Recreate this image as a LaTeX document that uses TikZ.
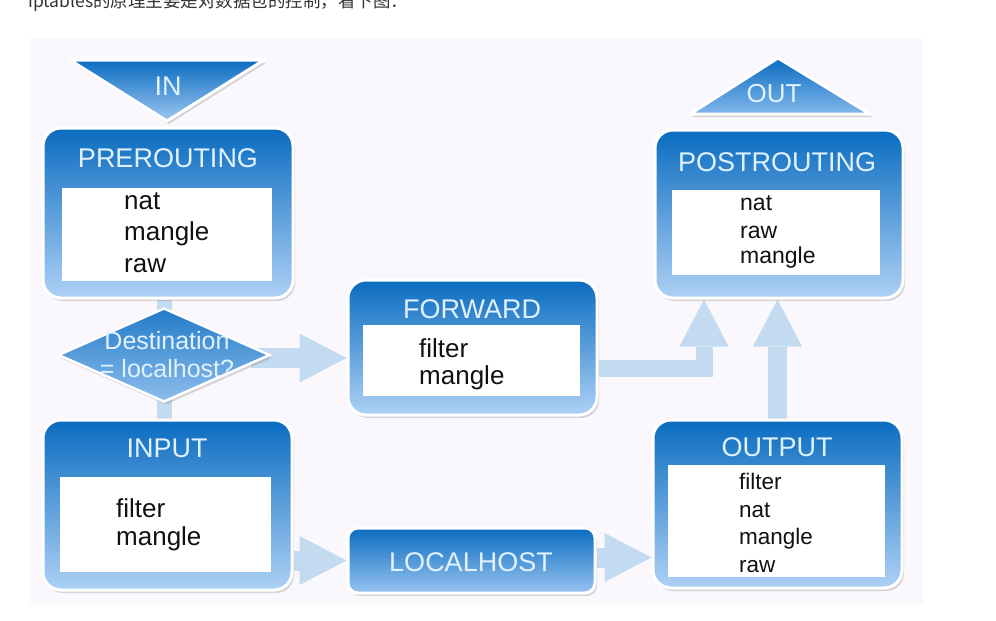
\documentclass[tikz,border=0pt]{standalone}
\usepackage{fontspec}
\setmainfont{Liberation Sans}
\newfontfamily\cjk{Noto Sans CJK SC}
\usetikzlibrary{shapes.geometric,arrows.meta,shadows}
\definecolor{boxtop}{HTML}{0A6CC0}
\definecolor{boxmid}{HTML}{3F90DC}
\definecolor{boxbot}{HTML}{AED1F5}
\definecolor{titlec}{HTML}{E2F1FF}
\definecolor{arrowc}{HTML}{C3DBF1}
\definecolor{panelc}{HTML}{FAF8FC}
\definecolor{itemc}{HTML}{111111}
\pgfdeclarelayer{panel}
\pgfdeclarelayer{background}
\pgfsetlayers{panel,background,main}
\begin{document}
\begin{tikzpicture}[x=1pt,y=-1pt,
  softshadow/.style={drop shadow={shadow xshift=2pt,shadow yshift=-3pt,opacity=0.3,fill=black!50}},
  chainbox/.style={rounded corners=18pt,draw=white,line width=3pt,top color=boxtop,middle color=boxmid,bottom color=boxbot,inner sep=0pt,softshadow},
  tablebox/.style={fill=white,draw=none,inner sep=0pt},
  titletext/.style={text=titlec,font=\fontsize{27}{30}\selectfont,anchor=base,inner sep=0pt},
  itemtext/.style={text=itemc,anchor=base west,inner sep=0pt},
  blockline/.style={draw=arrowc,line width=#1,line join=miter},
  blocktip/.style={-{Triangle[length=47pt,width=49pt,line width=0pt]}}
]
\useasboundingbox (0,0) rectangle (996,621);
\begin{pgfonlayer}{panel}
  \fill[white] (0,0) rectangle (996,621);
  \fill[panelc] (30,38) rectangle (923,604);
\end{pgfonlayer}

% caption (cut off at the top, as in the reference)
\node[anchor=base west,inner sep=0pt,text=black!80,font=\cjk\fontsize{17.5}{20}\selectfont] (caption) at (28,7) {iptables的原理主要是对数据包的控制，看下图：};

% IN and OUT triangles
\path[draw=white,line width=3pt,line join=round,top color=boxtop,bottom color=boxbot!85!boxmid,softshadow]
  (70,60) -- (264,60) -- (167,121) -- cycle;
\node[titletext] (intext) at (168,95) {IN};
\path[draw=white,line width=3pt,line join=round,top color=boxtop,bottom color=boxbot!60!boxmid,softshadow]
  (778,58) -- (870,114) -- (690,114) -- cycle;
\node[titletext,font=\fontsize{26}{30}\selectfont] (outtext) at (774,102) {OUT};

% PREROUTING
\node[chainbox,minimum width=250pt,minimum height=170pt] (pre) at (168,213) {};
\node[tablebox,minimum width=210pt,minimum height=93pt] (pretab) at (167,234.5) {};
\node[titletext] (pretitle) at (168,167) {PREROUTING};
\node[itemtext,font=\fontsize{26}{30}\selectfont] (pre1) at (124,209) {nat};
\node[itemtext,font=\fontsize{26}{30}\selectfont] (pre2) at (124,240.5) {mangle};
\node[itemtext,font=\fontsize{26}{30}\selectfont] (pre3) at (124,272) {raw};

% POSTROUTING
\node[chainbox,minimum width=248pt,minimum height=168pt] (post) at (779,214) {};
\node[tablebox,minimum width=208pt,minimum height=85pt] (posttab) at (776,232.5) {};
\node[titletext] (posttitle) at (777,171) {POSTROUTING};
\node[itemtext,font=\fontsize{23}{28}\selectfont] (post1) at (740,210) {nat};
\node[itemtext,font=\fontsize{23}{28}\selectfont] (post2) at (740,238) {raw};
\node[itemtext,font=\fontsize{23}{28}\selectfont] (post3) at (740,263.5) {mangle};

% FORWARD
\node[chainbox,minimum width=249pt,minimum height=135pt] (fwd) at (472.5,347.5) {};
\node[tablebox,minimum width=217pt,minimum height=71pt] (fwdtab) at (471.5,360.5) {};
\node[titletext] (fwdtitle) at (472,318) {FORWARD};
\node[itemtext,font=\fontsize{26}{30}\selectfont] (fwd1) at (419,357) {filter};
\node[itemtext,font=\fontsize{26}{30}\selectfont] (fwd2) at (419,384) {mangle};

% INPUT
\node[chainbox,minimum width=249pt,minimum height=170pt] (inp) at (167.5,505) {};
\node[tablebox,minimum width=211pt,minimum height=95pt] (inptab) at (165.5,524.5) {};
\node[titletext] (inptitle) at (167,457) {INPUT};
\node[itemtext,font=\fontsize{26}{30}\selectfont] (inp1) at (116,517) {filter};
\node[itemtext,font=\fontsize{26}{30}\selectfont] (inp2) at (116,545) {mangle};

% OUTPUT
\node[chainbox,minimum width=249pt,minimum height=168pt] (outp) at (777.5,504) {};
\node[tablebox,minimum width=217pt,minimum height=112pt] (outptab) at (776.5,521) {};
\node[titletext] (outptitle) at (777,456) {OUTPUT};
\node[itemtext,font=\fontsize{22.5}{28}\selectfont] (outp1) at (739,489) {filter};
\node[itemtext,font=\fontsize{22.5}{28}\selectfont] (outp2) at (739,517) {nat};
\node[itemtext,font=\fontsize{22.5}{28}\selectfont] (outp3) at (739,544) {mangle};
\node[itemtext,font=\fontsize{22.5}{28}\selectfont] (outp4) at (739,572) {raw};

% LOCALHOST
\node[chainbox,rounded corners=10pt,top color=boxtop,middle color=boxmid!90!boxtop,bottom color=boxbot!80!boxmid,minimum width=247pt,minimum height=65pt] (loc) at (471.5,560.5) {};
\node[titletext] (loctitle) at (471,571) {LOCALHOST};

% decision diamond
\node[diamond,draw=white,line width=2.5pt,top color=boxtop!90!white,bottom color=boxbot!70!boxmid,inner sep=0pt,minimum width=212pt,minimum height=94pt,softshadow] (dia) at (164,355) {};
\node[titletext,font=\fontsize{25}{30}\selectfont] (dia1) at (167,349) {Destination};
\node[titletext,font=\fontsize{25}{30}\selectfont] (dia2) at (167,377) {= localhost?};

% connectors
\begin{pgfonlayer}{background}
  \draw[blockline=15pt] (dia.center |- pre.south) -- (dia.center);
  \draw[blockline=15pt] (dia.center) -- (dia.center |- inp.north);
  \draw[blockline=20pt,blocktip] ([xshift=-20pt,yshift=-3pt]dia.east) -- ([yshift=-3pt]dia.east -| fwd.west);
  \draw[blockline=20pt,blocktip] (loc.west -| inp.east) -- (loc.west);
  \draw[blockline=20pt,blocktip] ([yshift=3pt]loc.east) -- ([yshift=3pt]loc.east -| outp.west);
  \draw[blockline=19pt,blocktip] (outp.north) -- (outp.north |- post.south);
  \draw[blockline=17pt,blocktip] ([yshift=-20.5pt]fwd.east) -| ([xshift=-75pt]post.south);
\end{pgfonlayer}
\end{tikzpicture}
\end{document}
